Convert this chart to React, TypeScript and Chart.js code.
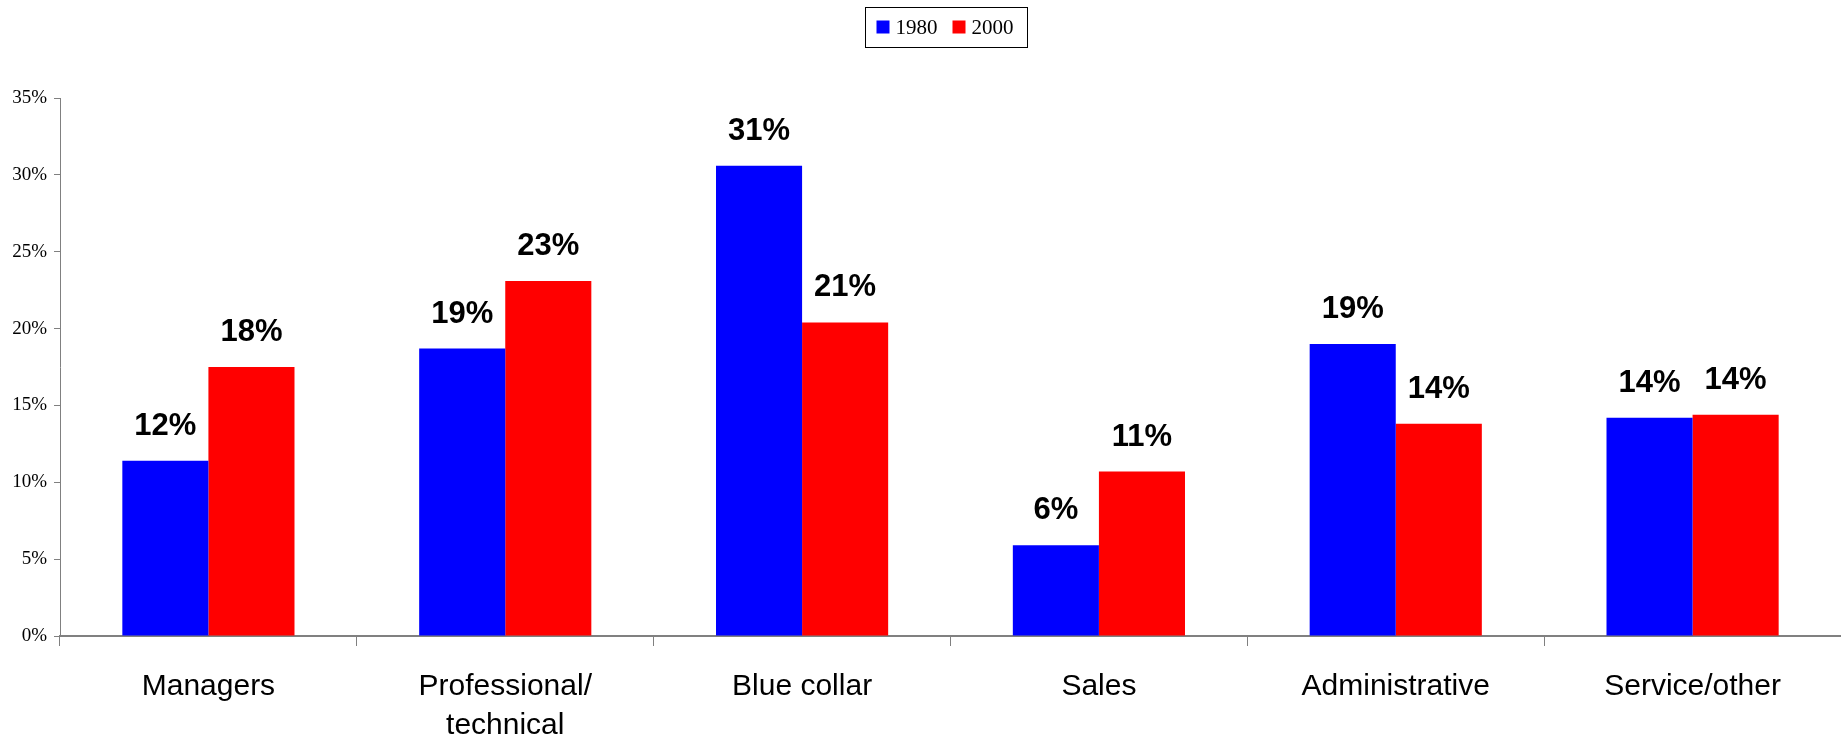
import React, { useEffect, useRef } from "react";
import { Chart, registerables } from "chart.js";

Chart.register(...registerables);

const categories: (string | string[])[] = [
  "Managers",
  ["Professional/", "technical"],
  "Blue collar",
  "Sales",
  "Administrative",
  "Service/other",
];
const seriesNames = ["1980", "2000"];
const values1980 = [11.4, 18.7, 30.6, 5.9, 19.0, 14.2];
const values2000 = [17.5, 23.1, 20.4, 10.7, 13.8, 14.4];
const labels1980 = ["12%", "19%", "31%", "6%", "19%", "14%"];
const labels2000 = ["18%", "23%", "21%", "11%", "14%", "14%"];
const yTicks = [0, 5, 10, 15, 20, 25, 30, 35];
const colors = ["#0000FF", "#FF0000"];

const W = 1841;
const H = 738;

export default function App() {
  const ref = useRef<HTMLCanvasElement | null>(null);

  useEffect(() => {
    if (!ref.current) return;
    const valueLabels = [labels1980, labels2000];

    const dataLabelPlugin = {
      id: "dataLabels",
      afterDatasetsDraw(chart: any) {
        const ctx = chart.ctx;
        ctx.save();
        ctx.font = "bold 31px 'Liberation Sans', Arial, sans-serif";
        ctx.fillStyle = "#000";
        ctx.textAlign = "center";
        ctx.textBaseline = "alphabetic";
        chart.data.datasets.forEach((ds: any, di: number) => {
          const meta = chart.getDatasetMeta(di);
          meta.data.forEach((bar: any, i: number) => {
            ctx.fillText(valueLabels[di][i], bar.x, bar.y - 26);
          });
        });
        ctx.restore();
      },
    };

    const legendPlugin = {
      id: "boxLegend",
      afterDraw(chart: any) {
        const ctx = chart.ctx;
        ctx.save();
        ctx.font = "21px 'Liberation Serif', 'Times New Roman', serif";
        const sq = 13;
        const gapSq = 6;
        const gapItem = 15;
        const padX = 11;
        const padR = 14;
        const widths = seriesNames.map((n) => ctx.measureText(n).width);
        let total = padX + padR;
        widths.forEach((w, i) => {
          total += sq + gapSq + w + (i < widths.length - 1 ? gapItem : 0);
        });
        const boxTop = 7;
        const boxH = 40;
        const area = chart.chartArea;
        const left = Math.round((area.left + area.right - total) / 2) - 5 + 0.5;
        ctx.strokeStyle = "#000";
        ctx.lineWidth = 1;
        ctx.strokeRect(left, boxTop + 0.5, total, boxH);
        let x = left + padX;
        const cy = boxTop + boxH / 2;
        seriesNames.forEach((n, i) => {
          ctx.fillStyle = colors[i];
          ctx.fillRect(x, cy - sq / 2, sq, sq);
          x += sq + gapSq;
          ctx.fillStyle = "#000";
          ctx.textBaseline = "middle";
          ctx.textAlign = "left";
          ctx.fillText(n, x, cy + 1);
          x += widths[i] + gapItem;
        });
        ctx.restore();
      },
    };

    const chart = new Chart(ref.current, {
      type: "bar",
      data: {
        labels: categories,
        datasets: [
          {
            label: seriesNames[0],
            data: values1980,
            backgroundColor: colors[0],
            borderWidth: 0,
            categoryPercentage: 0.58,
            barPercentage: 1.0,
          },
          {
            label: seriesNames[1],
            data: values2000,
            backgroundColor: colors[1],
            borderWidth: 0,
            categoryPercentage: 0.58,
            barPercentage: 1.0,
          },
        ],
      },
      options: {
        animation: false,
        responsive: false,
        maintainAspectRatio: false,
        layout: { padding: { top: 98, left: 0, right: 0, bottom: 0 } },
        plugins: {
          legend: { display: false },
          tooltip: { enabled: false },
          title: { display: false },
        },
        scales: {
          x: {
            grid: {
              display: true,
              drawOnChartArea: false,
              drawTicks: true,
              tickLength: 10,
              color: "#808080",
              offset: true,
            },
            border: { display: true, color: "#808080", width: 2 },
            ticks: {
              color: "#000",
              font: { family: "'Liberation Sans', Arial, sans-serif", size: 30, lineHeight: 1.3 },
              padding: 21,
              maxRotation: 0,
              autoSkip: false,
            },
            afterFit(scale: any) {
              scale.height = H - 636;
            },
          },
          y: {
            min: 0,
            max: 35,
            afterBuildTicks(scale: any) {
              scale.ticks = yTicks.map((v) => ({ value: v }));
            },
            grid: {
              display: true,
              drawOnChartArea: false,
              drawTicks: true,
              tickLength: 6,
              color: "#808080",
            },
            border: { display: true, color: "#808080", width: 1 },
            ticks: {
              color: "#000",
              font: { family: "'Liberation Serif', 'Times New Roman', serif", size: 19 },
              padding: 7,
              callback: (v: any) => `${v}%`,
            },
            afterFit(scale: any) {
              scale.width = 60;
            },
          },
        },
      },
      plugins: [dataLabelPlugin, legendPlugin],
    });
    return () => chart.destroy();
  }, []);

  return (
    <div style={{ position: "fixed", left: 0, top: 0, width: W, height: H, background: "#fff" }}>
      <canvas ref={ref} width={W} height={H} style={{ width: W, height: H, display: "block" }} />
    </div>
  );
}
